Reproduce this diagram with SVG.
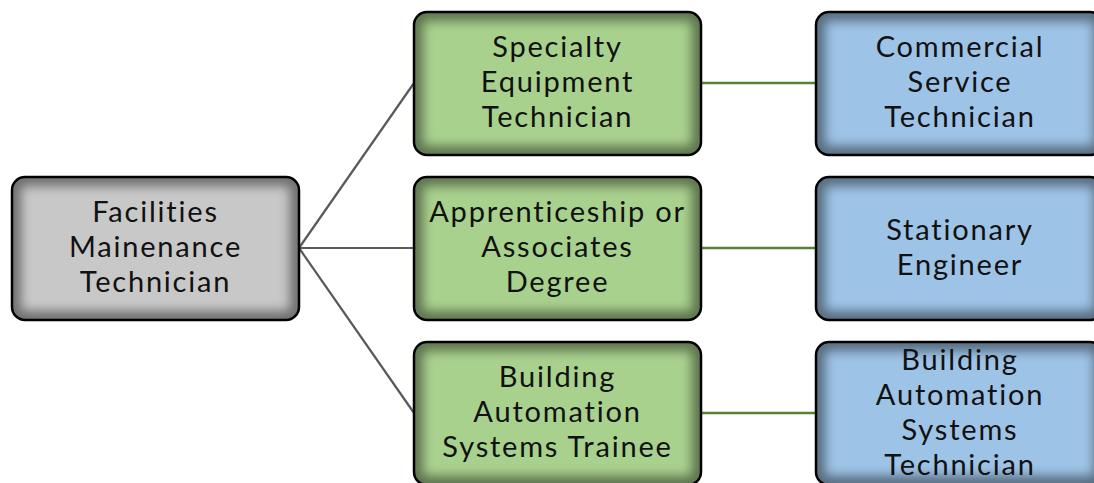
<svg xmlns="http://www.w3.org/2000/svg" width="1094" height="483" viewBox="0 0 1094 483">
<style>
.t{font-family:Lato,"Noto Sans","Liberation Sans",sans-serif;font-size:29px;letter-spacing:1.8px;fill:#111;text-anchor:middle;font-variant-ligatures:none;font-feature-settings:"liga" 0}
.edge{stroke-width:2.5;stroke:#000;fill:none}
.shade{fill:none;stroke:#000;stroke-opacity:0.45;stroke-width:18}
.gray{fill:#c8c8c8}
.green{fill:#a9d18e}
.blue{fill:#9dc3e6}
.c1{stroke:#595959;stroke-width:2.2;fill:none}
.c2{stroke:#548235;stroke-width:2.5;fill:none}
</style>
<defs>
<clipPath id="box"><rect x="0" y="0" width="287" height="143" rx="13"/></clipPath>
<filter id="blur" x="-10%" y="-15%" width="120%" height="130%"><feGaussianBlur stdDeviation="5.5"/></filter>
<g id="shadeRect"><g clip-path="url(#box)"><rect class="shade" filter="url(#blur)" x="0" y="0" width="287" height="143" rx="13"/></g><rect class="edge" x="0" y="0" width="287" height="143" rx="13"/></g>
</defs>
<g id="connectors">
<line class="c1" x1="299" y1="248" x2="414" y2="83"/>
<line class="c1" x1="299" y1="248" x2="414" y2="248"/>
<line class="c1" x1="299" y1="248" x2="414" y2="413"/>
<line class="c2" x1="701" y1="83" x2="816" y2="83"/>
<line class="c2" x1="701" y1="248" x2="816" y2="248"/>
<line class="c2" x1="701" y1="413" x2="816" y2="413"/>
</g>
<g id="n-facilities" transform="translate(12,177)">
<rect class="gray" width="287" height="143" rx="13"/>
<use href="#shadeRect"/>
<text class="t" y="45"><tspan x="143.5">Facilities</tspan><tspan x="143.5" dy="35">Mainenance</tspan><tspan x="143.5" dy="35">Technician</tspan></text>
</g>
<g id="n-specialty" transform="translate(414,12)">
<rect class="green" width="287" height="143" rx="13"/>
<use href="#shadeRect"/>
<text class="t" y="45"><tspan x="143.5">Specialty</tspan><tspan x="143.5" dy="35">Equipment</tspan><tspan x="143.5" dy="35">Technician</tspan></text>
</g>
<g id="n-apprentice" transform="translate(414,177)">
<rect class="green" width="287" height="143" rx="13"/>
<use href="#shadeRect"/>
<text class="t" y="45"><tspan x="143.5">Apprenticeship or</tspan><tspan x="143.5" dy="35">Associates</tspan><tspan x="143.5" dy="35">Degree</tspan></text>
</g>
<g id="n-bas-trainee" transform="translate(414,342)">
<rect class="green" width="287" height="143" rx="13"/>
<use href="#shadeRect"/>
<text class="t" y="45"><tspan x="143.5">Building</tspan><tspan x="143.5" dy="35">Automation</tspan><tspan x="143.5" dy="35">Systems Trainee</tspan></text>
</g>
<g id="n-commercial" transform="translate(816,12)">
<rect class="blue" width="287" height="143" rx="13"/>
<use href="#shadeRect"/>
<text class="t" y="45"><tspan x="144">Commercial</tspan><tspan x="144" dy="35">Service</tspan><tspan x="144" dy="35">Technician</tspan></text>
</g>
<g id="n-stationary" transform="translate(816,177)">
<rect class="blue" width="287" height="143" rx="13"/>
<use href="#shadeRect"/>
<text class="t" y="62.5"><tspan x="144">Stationary</tspan><tspan x="144" dy="35">Engineer</tspan></text>
</g>
<g id="n-bas-tech" transform="translate(816,342)">
<rect class="blue" width="287" height="143" rx="13"/>
<use href="#shadeRect"/>
<text class="t" y="27.5"><tspan x="144">Building</tspan><tspan x="144" dy="35">Automation</tspan><tspan x="144" dy="35">Systems</tspan><tspan x="144" dy="35">Technician</tspan></text>
</g>
</svg>
